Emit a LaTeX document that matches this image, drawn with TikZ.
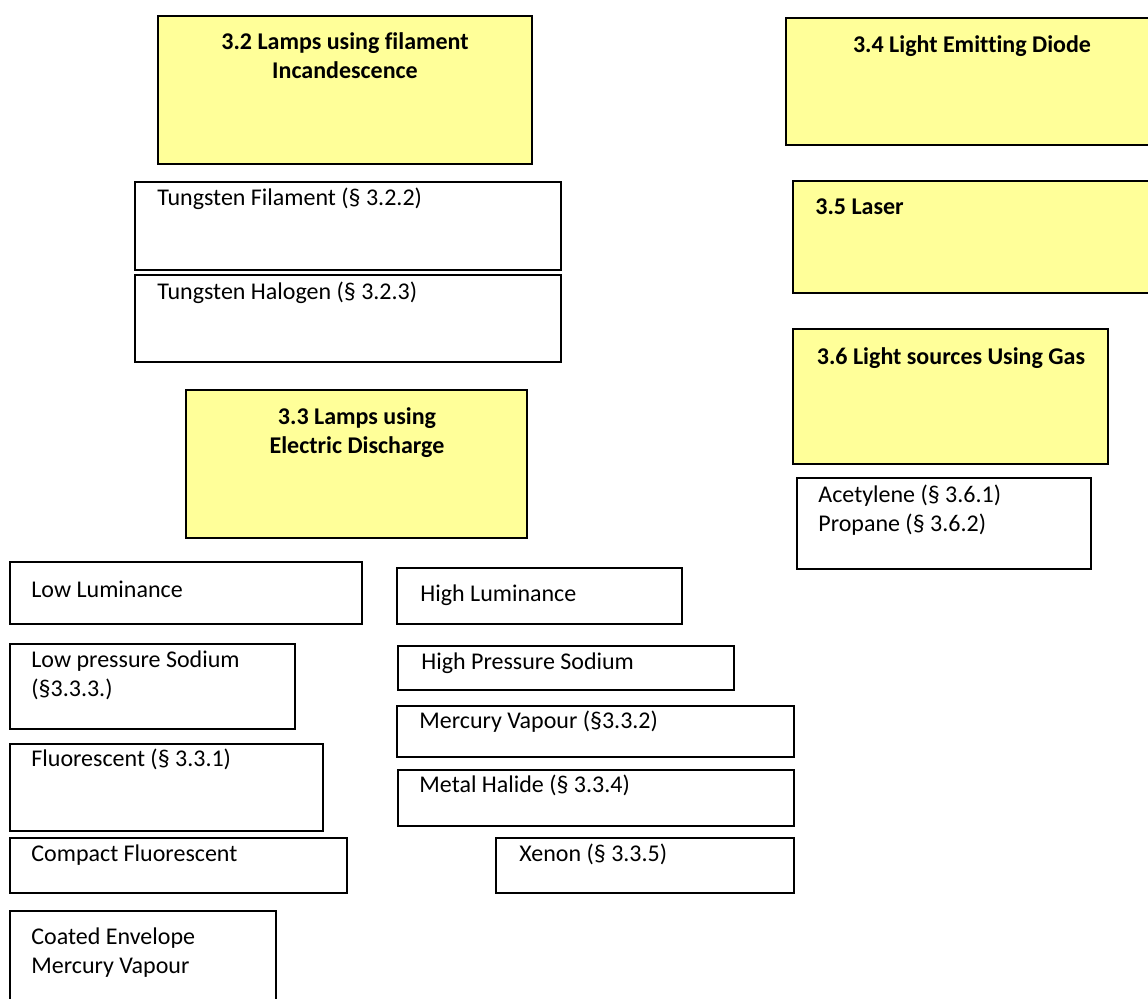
\documentclass[tikz,border=0pt]{standalone}
\usepackage{fontspec}
\setmainfont{Carlito}[Ligatures=NoCommon]
\usetikzlibrary{positioning, calc, fit}
\definecolor{lampyellow}{RGB}{255,255,153}

\begin{document}
\begin{tikzpicture}[
        x=0.5pt, y=-0.5pt,
        every node/.style={font=\fontsize{12}{14.5}\selectfont},
        ybox/.style={rectangle, draw=black, fill=lampyellow, line width=1pt, inner sep=0pt},
        wbox/.style={rectangle, draw=black, fill=white, line width=1pt, inner sep=0pt},
        head/.style={font=\fontsize{12}{14.5}\selectfont\bfseries, align=center, anchor=base, inner sep=0pt},
        headl/.style={font=\fontsize{12}{14.5}\selectfont\bfseries, align=left, anchor=base west, inner sep=0pt},
        item/.style={align=left, anchor=base west, inner sep=0pt}
    ]
        \useasboundingbox (0,0) rectangle (1148,999);
        \clip (0,0) rectangle (1148,999);

        % 3.2 filament lamps (multi-line texts sit on their last baseline)
        \node[ybox, fit={(158,16) (532,164)}] (INC) {};
        \node[head] (INCT) at (345,79) {3.2 Lamps using filament\\Incandescence};
        \node[wbox, fit={(135,182) (561,270)}] (TF) {};
        \node[item] (TFT) at (157,206) {Tungsten Filament (§ 3.2.2)};
        \node[wbox, fit={(135,275) (561,362)}] (TH) {};
        \node[item] (THT) at (157,300) {Tungsten Halogen (§ 3.2.3)};

        % 3.3 discharge lamps
        \node[ybox, fit={(186,390) (527,538)}] (DIS) {};
        \node[head] (DIST) at (357,454) {3.3 Lamps using\\Electric Discharge};
        \node[wbox, fit={(10,562) (362,624)}] (LOW) {};
        \node[item] (LOWT) at (31,598) {Low Luminance};
        \node[wbox, fit={(397,568) (682,624)}] (HIGH) {};
        \node[item] (HIGHT) at (420,602) {High Luminance};
        \node[wbox, fit={(10,644) (295,729)}] (LPS) {};
        \node[item] (LPST) at (31,697) {Low pressure Sodium\\(§3.3.3.)};
        \node[wbox, fit={(10,744) (323,831)}] (FLU) {};
        \node[item] (FLUT) at (31,767) {Fluorescent (§ 3.3.1)};
        \node[wbox, fit={(10,838) (347,893)}] (CFL) {};
        \node[item] (CFLT) at (31,862) {Compact Fluorescent};
        \node[wbox, fit={(10,911) (276,1010)}] (COAT) {};
        \node[item] (COATT) at (31,974) {Coated Envelope\\Mercury Vapour};
        \node[wbox, fit={(398,646) (734,690)}] (HPS) {};
        \node[item] (HPST) at (421,670) {High Pressure Sodium};
        \node[wbox, fit={(397,706) (794,757)}] (MV) {};
        \node[item] (MVT) at (419,729) {Mercury Vapour (§3.3.2)};
        \node[wbox, fit={(398,770) (794,826)}] (MH) {};
        \node[item] (MHT) at (419,793) {Metal Halide (§ 3.3.4)};
        \node[wbox, fit={(496,838) (794,893)}] (XE) {};
        \node[item] (XET) at (519,862) {Xenon (§ 3.3.5)};

        % 3.4 - 3.6
        \node[ybox, fit={(786,18) (1160,145)}] (LED) {};
        \node[head] (LEDT) at (972,53) {3.4 Light Emitting Diode};
        \node[ybox, fit={(793,181) (1160,293)}] (LAS) {};
        \node[headl] (LAST) at (815,215) {3.5 Laser};
        \node[ybox, fit={(793,329) (1108,464)}] (GAS) {};
        \node[head] (GAST) at (951,365) {3.6 Light sources Using Gas};
        \node[wbox, fit={(797,478) (1091,569)}] (FUEL) {};
        \node[item] (FUELT) at (818,532) {Acetylene (§ 3.6.1)\\Propane (§ 3.6.2)};
    \end{tikzpicture}
\end{document}
